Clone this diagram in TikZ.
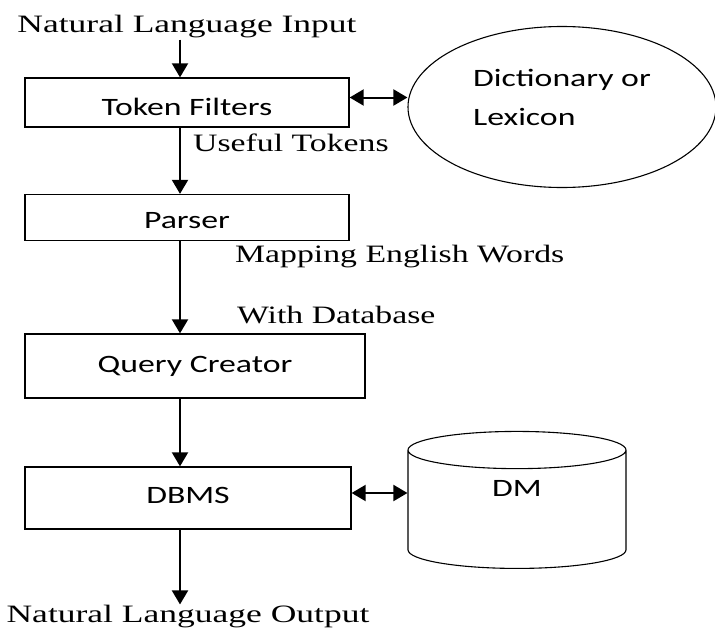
\documentclass[tikz,border=0pt]{standalone}
\usepackage{fontspec}
\usepackage{graphicx}
\setmainfont{Liberation Serif}
\newfontfamily\boxfont{Carlito}
\usetikzlibrary{arrows.meta,shapes.geometric}
% text in the figure is set a bit wider than the font
\newcommand{\wide}[2][1.35]{\scalebox{#1}[1]{#2}}
% shift text up or down inside its node, keeping the box size
\newcommand{\nudge}[2]{\raisebox{#1}[\height][\depth]{#2}}
\tikzset{
  stage/.style={draw,line width=1.3pt,inner sep=0pt,font=\boxfont\fontsize{25}{30}\selectfont},
  note/.style={inner sep=1pt,font=\fontsize{25}{30}\selectfont},
  flow/.style={->,line width=2pt},
  link/.style={<->,line width=2pt}
}
\begin{document}
\begin{tikzpicture}[x=1pt,y=-1pt,>={Triangle[width=16pt,length=14pt]}]
	\useasboundingbox (0,0) rectangle (715,629);
	\coordinate (axis) at (180,0); % all vertical arrows run on this line
	% main chain
	\node[note] (in) at (187,27) {\wide[1.42]{Natural Language Input}};
	\node[stage,minimum width=324pt,minimum height=49pt] (tf) at (187,102.5) {\nudge{-4pt}{\wide{Token Filters}}};
	\node[stage,minimum width=324pt,minimum height=46pt] (ps) at (187,217.5) {\nudge{-3pt}{\wide{Parser}}};
	\node[stage,minimum width=340pt,minimum height=64pt] (qc) at (195,366) {\wide{Query Creator}};
	\node[stage,minimum width=326pt,minimum height=62pt] (db) at (188,498) {\nudge{3pt}{\wide{DBMS}}};
	\node[note] (out) at (188,617) {\wide[1.42]{Natural Language Output}};
	% side stores
	\node[draw,ellipse,line width=1.1pt,minimum width=308pt,minimum height=161pt] (dict) at (562,107) {};
	\node[note,font=\boxfont\fontsize{25}{39}\selectfont,align=left] (dicttext) at ([yshift=10pt]dict.center) {\wide{Dictionary or}\\\wide{Lexicon}};
	\node[stage,line width=1.1pt,cylinder,shape border rotate=90,aspect=0.75,minimum width=218pt,minimum height=137pt] (dm) at (517,509.5) {\nudge{21pt}{\wide{DM}}};
	% edge labels
	\node[note,anchor=west] (useful) at (192,143) {\wide{Useful Tokens}};
	\node[note,anchor=west] (mapping) at (234,257) {\wide{Mapping English Words}};
	\node[note,anchor=west] (withdb) at (236,315) {\wide{With Database}};
	% arrows
	\draw[flow] (in.south -| axis) -- (tf.north -| axis);
	\draw[flow] (tf.south -| axis) -- (ps.north -| axis);
	\draw[flow] (ps.south -| axis) -- (qc.north -| axis);
	\draw[flow] (qc.south -| axis) -- (db.north -| axis);
	\draw[flow] (db.south -| axis) -- (out.north -| axis);
	\draw[link] ([yshift=5pt]tf.east) -- ([yshift=5pt]tf.east -| dict.west);
	\draw[link] ([yshift=5pt]db.east) -- ([yshift=5pt]db.east -| dm.west);
\end{tikzpicture}
\end{document}
